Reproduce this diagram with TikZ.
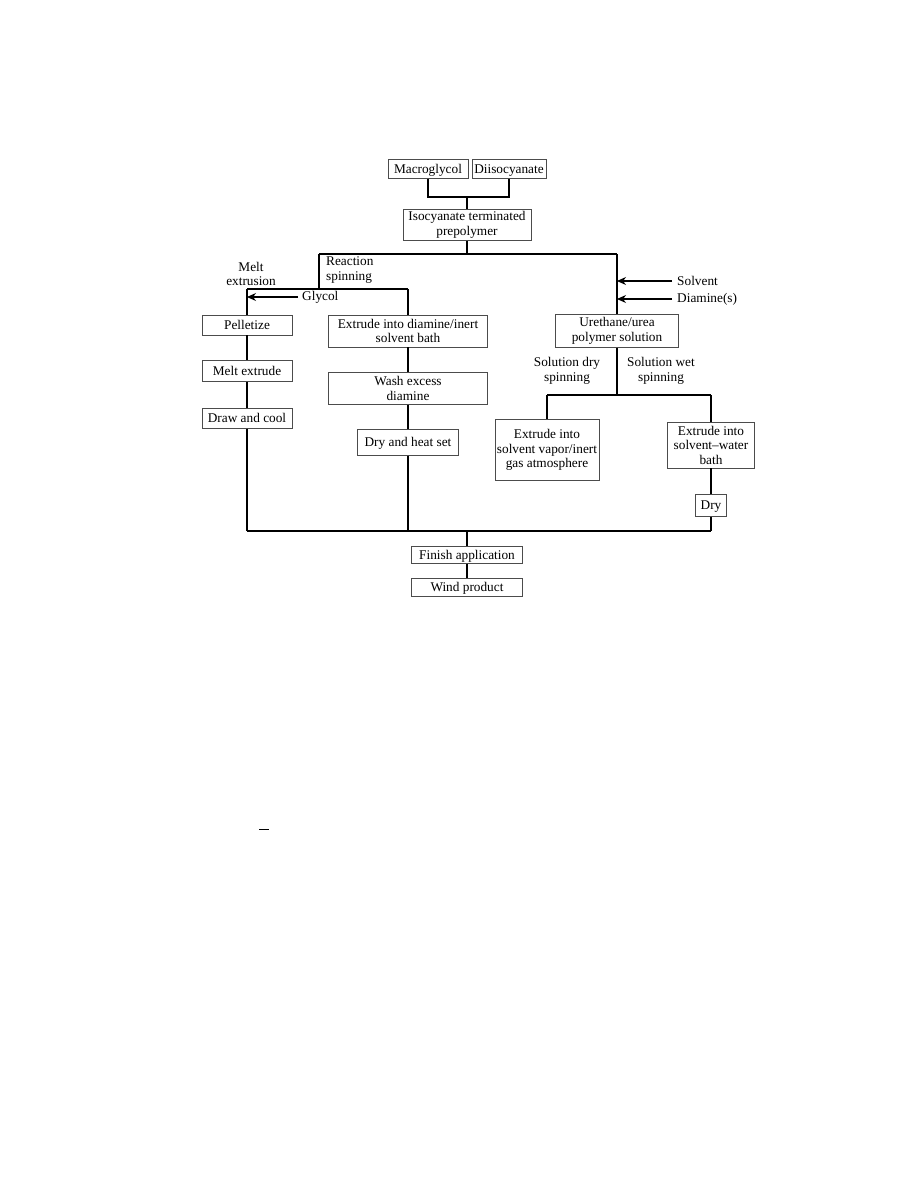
\documentclass[tikz,border=0pt]{standalone}
\usepackage{fontspec}
\setmainfont{Liberation Serif}
\usepackage{tikz}
\usetikzlibrary{arrows.meta, positioning}

\newcommand{\fsz}{\fontsize{13.3}{14.5}\selectfont}

\begin{document}
\begin{tikzpicture}[
  x=1pt, y=-1pt,
  box/.style={rectangle, draw=black!70, line width=0.6pt, fill=white,
    align=center, font=\fsz, inner sep=2pt},
  single/.style={box, text height=9pt, text depth=1pt},
  lbl/.style={font=\fsz, inner sep=0pt},
  conn/.style={line width=1.1pt, black},
  arr/.style={conn, -{Stealth[length=9pt, width=8pt]}},
]
\useasboundingbox (0,0) rectangle (918,1188);
% ====== RAW MATERIALS ======
\node[single, minimum width=80pt, minimum height=19pt] (mac) at (428,169) {Macroglycol};
\node[single, minimum width=74pt, minimum height=19pt] (dii) at (509,169) {Diisocyanate};
\node[box, minimum width=128pt, minimum height=31pt] (iso) at (467,225)
  {Isocyanate terminated\\prepolymer};
\coordinate (jtop) at (467,197);
\draw[conn] (mac.south) |- (jtop) -| (dii.south);
\draw[conn] (jtop) -- (iso.north);
%
% ====== MAIN SPLIT ======
\coordinate (rL) at (319,254);
\coordinate (rR) at (617,254);
\draw[conn] (iso.south) -- (iso.south |- rL);
\draw[conn] (rL) -- (rR);
%
% ====== MELT EXTRUSION / REACTION SPINNING ======
\node[lbl, align=center] (meltlbl) at (251,274) {Melt\\extrusion};
\node[lbl, align=left, anchor=west] (reaclbl) at (326,270) {Reaction\\spinning};
\coordinate (mL) at (247,289);
\coordinate (mR) at (408,289);
\draw[conn] (rL) -- (rL |- mL);
\draw[conn] (mL) -- (mR);
\node[single, minimum width=90pt, minimum height=20pt] (pel) at (247,325) {Pelletize};
\node[single, minimum width=90pt, minimum height=21pt, below=25pt of pel] (mex) {Melt extrude};
\node[single, minimum width=90pt, minimum height=20pt, below=26pt of mex] (dac) {Draw and cool};
\node[box, minimum width=159pt, minimum height=32pt] (exd) at (408,331)
  {Extrude into diamine/inert\\solvent bath};
\node[box, minimum width=159pt, minimum height=32pt, below=25pt of exd] (wash)
  {Wash excess\\diamine};
\node[single, minimum width=101pt, minimum height=26pt, below=24pt of wash] (dhs)
  {Dry and heat set};
\node[lbl, anchor=west, inner xsep=4pt] (gly) at (298,297) {Glycol};
\draw[arr] (gly.west) -- (gly.west -| pel);
\draw[conn] (mL) -- (pel.north);
\draw[conn] (mR) -- (exd.north);
\draw[conn] (pel) -- (mex);
\draw[conn] (mex) -- (dac);
\draw[conn] (exd) -- (wash);
\draw[conn] (wash) -- (dhs);
%
% ====== SOLUTION SPINNING ======
\node[box, minimum width=123pt, minimum height=33pt] (ure) at (617,331)
  {Urethane/urea\\polymer solution};
\node[lbl, anchor=west, inner xsep=5pt] (sol) at (672,281) {Solvent};
\node[lbl, anchor=west, inner xsep=5pt] (dia) at (672,299) {Diamine(s)};
\draw[conn] (rR) -- (ure.north);
\draw[arr] (sol.west) -- (sol.west -| ure);
\draw[arr] (dia.west) -- (dia.west -| ure);
\node[lbl, align=center] (drylbl) at (567,371) {Solution dry\\spinning};
\node[lbl, align=center] (wetlbl) at (661,371) {Solution wet\\spinning};
\coordinate (sL) at (547,395);
\coordinate (sR) at (711,395);
\draw[conn] (ure.south) -- (ure.south |- sL);
\draw[conn] (sL) -- (sR);
\node[box, minimum width=103pt, minimum height=61pt] (vap) at (547,450)
  {Extrude into\\solvent vapor/inert\\gas atmosphere};
\node[box, minimum width=87pt, minimum height=46pt] (wat) at (711,445)
  {Extrude into\\solvent--water\\bath};
\node[single, minimum width=31pt, minimum height=22pt, below=26pt of wat] (dry) {Dry};
\draw[conn] (sL) -- (vap.north);
\draw[conn] (sR) -- (wat.north);
\draw[conn] (wat) -- (dry);
%
% ====== COLLECTION AND FINISHING ======
\coordinate (bL) at (247,531);
\coordinate (bR) at (711,531);
\node[single, minimum width=111pt, minimum height=17pt] (fin) at (467,555) {Finish application};
\node[single, minimum width=111pt, minimum height=18pt, below=14pt of fin] (wind) {Wind product};
\draw[conn] (dac) -- (bL);
\draw[conn] (dhs.south) -- (dhs.south |- bL);
\draw[conn] (dry) -- (bR);
\draw[conn] (bL) -- (bR);
\draw[conn] (fin.north |- bL) -- (fin);
\draw[conn] (fin) -- (wind);
%
% stray mark
\draw[line width=1pt] (259,829) -- (269,829);
\end{tikzpicture}
\end{document}
